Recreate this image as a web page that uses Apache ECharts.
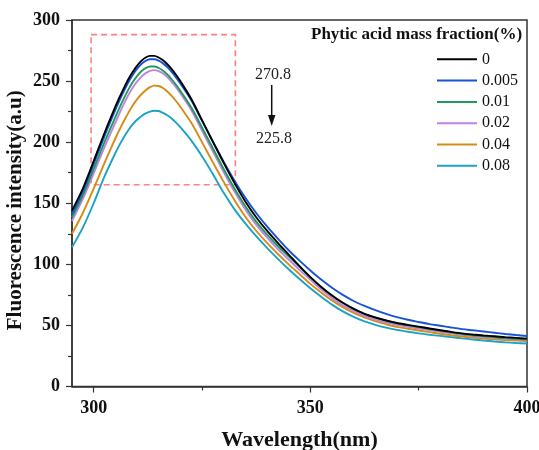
<!DOCTYPE html>
<html>
<head>
<meta charset="utf-8">
<script src="https://cdn.jsdelivr.net/npm/echarts@6/dist/echarts.min.js"></script>
<style>
html,body{margin:0;padding:0;background:#fff;}
#chart{width:539px;height:450px;}
</style>
</head>
<body>
<div id="chart"></div>
<script>
const wavelength = [295,297.5,300,302.5,305,306,307,308,309,310,311,312,313,314,315,316,317,318,319,320,322.5,325,327.5,330,332.5,335,337.5,340,342.5,345,347.5,350,352.5,355,357.5,360,362.5,365,367.5,370,372.5,375,377.5,380,382.5,385,387.5,390,392.5,395,397.5,400];
const seriesNames = ['0','0.005','0.01','0.02','0.04','0.08'];
const s0    = [144,162,184.5,207.5,229,237,244.5,251.5,257.5,262.5,266.5,269.3,270.6,270.6,269.3,267,263.8,259.8,255.2,250,235.5,218,200.5,183,166.5,151.5,138.5,127.5,117.5,108,98.5,89.5,81.5,74.5,68.5,63.5,59.5,56.5,54,52,50.4,49,47.5,46,44.7,43.5,42.6,41.8,41.1,40.4,39.8,39.2];
const s0005 = [141,159.5,182,205,226.5,234.5,242,249,255,260,264,266.6,267.9,267.9,266.7,264.5,261.4,257.5,253,248,234.5,217.5,200.5,184,168.5,154.5,142,131,121,111.5,103,95,87.5,80.8,75,70,66,62.5,59.5,56.8,54.6,52.8,51.1,49.7,48.3,47,46,45,44,43,42.1,41.3];
const s001  = [138.5,156.5,178,200,220.5,228.5,236,243,249,254,258,260.6,261.9,261.9,260.7,258.5,255.4,251.5,247,242,228.5,212,195,178,162,147.5,135,124.5,115,106.5,98,89.5,81.5,74.5,68.5,63.5,59.5,56.3,53.8,51.8,50.2,48.6,47.1,45.7,44.3,43,42,41.2,40.4,39.6,39,38.5];
const s002  = [135.5,153.5,174.5,196,216,224,231.5,238.5,244.5,249.5,253.5,256.5,258.4,259,258.2,256.2,253.2,249.4,245,240,226.5,209.5,192.5,175.5,159.5,145,132.5,122,112.5,104,95.5,87.5,79.5,72.5,66.5,61.8,57.8,54.8,52.3,50.5,48.9,47.5,46.1,44.8,43.5,42.3,41.3,40.5,39.7,39.1,38.5,38];
const s004  = [125,142,162,183,203,210.5,217.5,224,230,235,239.2,242.5,245,246.3,246,244.3,241.5,237.9,233.7,229,216,200,183.5,167.5,152.5,139,127.5,117.5,108.5,100,92,84,77,70.5,65,60.3,56.5,53.5,51,48.8,47.3,45.8,44.5,43.2,42,40.9,40,39.2,38.6,38,37.6,37.2];
const s008  = [114,130,150,172,191,198,204.3,209.8,214.5,218.3,221.3,223.5,225,225.7,225.5,224,222,219.3,216,212.3,201.5,188.5,174,158.5,145,133.5,123,113.5,104.5,96,88,80.5,73.5,67,61.5,57,53.3,50.5,48.2,46.3,44.8,43.5,42.4,41.4,40.4,39.4,38.5,37.6,36.8,36.1,35.6,35.2];
const xMajorTicks = [300,350,400];
const xMinorTicks = [325,375];
const annoTop = '270.8';
const annoBottom = '225.8';
const legendTitle = 'Phytic acid mass fraction(%)';

const allValues = [s0,s0005,s001,s002,s004,s008];
const colors = ['#000000','#1654d4','#1f9a5c','#c082e0','#d68b14','#1ba3c6'];

const chart = echarts.init(document.getElementById('chart'), null, {renderer:'canvas'});
const font = '"Liberation Serif","Times New Roman",serif';

const series = seriesNames.map((n,i)=>({
  name:n, type:'line', xAxisIndex:0, yAxisIndex:0,
  data: wavelength.map((w,j)=>[w, allValues[i][j]]),
  smooth:0.3, symbol:'none', z: 10-i,
  lineStyle:{color:colors[i], width:1.9},
  itemStyle:{color:colors[i]}
}));
series[0].markArea = {
  silent:true,
  itemStyle:{color:'rgba(0,0,0,0)', borderColor:'#ff8080', borderWidth:1.6, borderType:[6,4]},
  data:[[{coord:[299.4,288]},{coord:[332.7,165.2]}]]
};

chart.setOption({
  animation:false,
  backgroundColor:'#fff',
  grid:{left:72, right:12, top:20, bottom:63.5, show:true, borderColor:'#333', borderWidth:1.5, containLabel:false, outerBoundsMode:'none'},
  legend:{
    data:seriesNames, orient:'vertical', left:437, top:51.3, padding:0, itemWidth:40, itemHeight:14, itemGap:5.3,
    textStyle:{fontFamily:font, fontSize:16, color:'#111'},
    icon:'path://M0,6 L40,6 L40,8 L0,8 Z'
  },
  xAxis:[{
    type:'value', min:295, max:400, gridIndex:0,
    name:'Wavelength(nm)', nameLocation:'middle', nameGap:43,
    nameTextStyle:{fontFamily:font, fontSize:22, fontWeight:'bold', color:'#111'},
    axisLine:{show:true, onZero:false, lineStyle:{color:'#333', width:1.5}},
    axisTick:{show:true, length:6, customValues:xMajorTicks, lineStyle:{color:'#333', width:1.2}},
    axisLabel:{customValues:xMajorTicks, margin:13, fontFamily:font, fontSize:18, fontWeight:'bold', color:'#111'},
    splitLine:{show:false}
  },{
    type:'value', min:295, max:400, gridIndex:0, position:'bottom',
    axisLine:{show:false},
    axisTick:{show:true, length:4, customValues:xMinorTicks, lineStyle:{color:'#333', width:1.2}},
    axisLabel:{show:false}, splitLine:{show:false}
  }],
  yAxis:{
    type:'value', min:0, max:300, interval:50,
    name:'Fluorescence intensity(a.u)', nameLocation:'middle', nameGap:46, nameMoveOverlap:false,
    nameTextStyle:{fontFamily:font, fontSize:21, fontWeight:'bold', color:'#111', padding:[0,14,0,0]},
    axisLine:{show:true, lineStyle:{color:'#333', width:1.5}},
    axisTick:{show:true, length:6, lineStyle:{color:'#333', width:1.2}},
    minorTick:{show:true, splitNumber:2, length:4, lineStyle:{color:'#333', width:1.2}},
    axisLabel:{margin:12, fontFamily:font, fontSize:18, fontWeight:'bold', color:'#111'},
    splitLine:{show:false}
  },
  graphic:[
    {type:'text', left:311, top:26, style:{text:legendTitle, font:'bold 17px "Liberation Serif"', fill:'#111'}},
    {type:'text', x:273, y:75, style:{text:annoTop, font:'16px "Liberation Serif"', fill:'#222', align:'center', verticalAlign:'middle'}},
    {type:'text', x:274, y:139, style:{text:annoBottom, font:'16px "Liberation Serif"', fill:'#222', align:'center', verticalAlign:'middle'}},
    {type:'line', shape:{x1:271.7, y1:85, x2:271.7, y2:118}, style:{stroke:'#111', lineWidth:1.5}},
    {type:'polygon', shape:{points:[[268,115],[275.4,115],[271.7,126]]}, style:{fill:'#111'}}
  ],
  series:series
});
</script>
</body>
</html>
